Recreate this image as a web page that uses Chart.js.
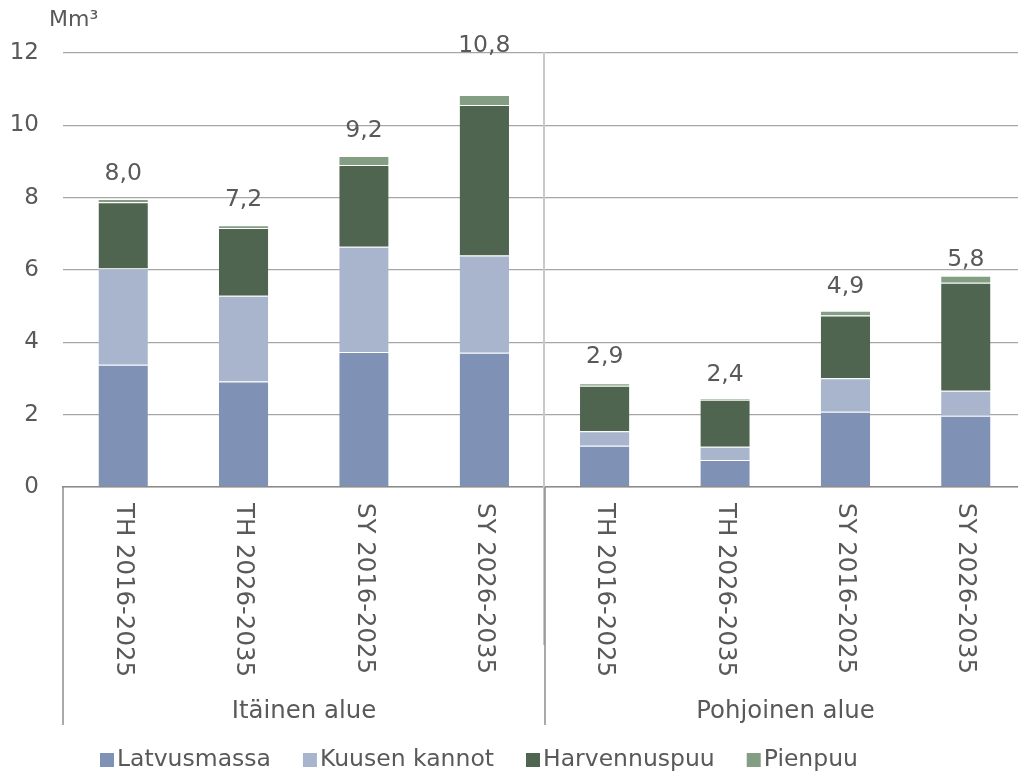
<!DOCTYPE html>
<html>
<head>
<meta charset="utf-8">
<script src="https://cdn.jsdelivr.net/npm/chart.js@4/dist/chart.umd.min.js"></script>
<style>
  html, body { margin: 0; padding: 0; background: #fff; overflow: hidden; }
  #wrap { width: 1018px; height: 774px; overflow: hidden; }
</style>
</head>
<body>
<div id="wrap"><canvas id="myChart" width="1027" height="774"></canvas></div>
<script>
// kategoriat ja ryhmät
var categories = ["TH 2016-2025", "TH 2026-2035", "SY 2016-2025", "SY 2026-2035",
                  "TH 2016-2025", "TH 2026-2035", "SY 2016-2025", "SY 2026-2035"];
var groups = ["Itäinen alue", "Pohjoinen alue"];

// sarjat (Mm3)
var latvusmassa = [3.38, 2.92, 3.73, 3.71, 1.14, 0.75, 2.08, 1.97];
var kuusenKannot = [2.66, 2.37, 2.91, 2.69, 0.40, 0.36, 0.93, 0.69];
var harvennuspuu = [1.83, 1.87, 2.26, 4.16, 1.26, 1.30, 1.73, 2.99];
var pienpuu = [0.09, 0.08, 0.25, 0.28, 0.07, 0.04, 0.13, 0.19];
var totals = [8.0, 7.2, 9.2, 10.8, 2.9, 2.4, 4.9, 5.8];

var yTicks = [0, 2, 4, 6, 8, 10, 12];

var FONT = "Verdana, 'DejaVu Sans', sans-serif";
var TXT = "#595959";
// summatekstien etäisyys pylvään päästä (px), osa siirretty käsin
var labelLift = [25, 25, 25, 49, 26, 24, 24, 16];

// omat piirrot: arvot, kategoriat, ryhmät, viivat, selite
var extras = {
  id: "extras",
  afterDatasetsDraw: function (chart) {
    var ctx = chart.ctx;
    var area = chart.chartArea;
    var x = chart.scales.x;
    ctx.save();

    // erotinviiva ryhmien välissä
    var mid = Math.round((x.getPixelForValue(3) + x.getPixelForValue(4)) / 2);
    ctx.strokeStyle = "#c8c8c8";
    ctx.lineWidth = 2;
    ctx.beginPath();
    ctx.moveTo(mid - 1, area.top - 1);
    ctx.lineTo(mid - 1, 645);
    ctx.stroke();

    // pystyviivat kategoria-alueella
    ctx.strokeStyle = "#8c8c8c";
    ctx.lineWidth = 1.5;
    [area.left, mid, area.right].forEach(function (px) {
      ctx.beginPath();
      ctx.moveTo(px, area.bottom);
      ctx.lineTo(px, 725);
      ctx.stroke();
    });

    // summat pylväiden päälle
    var top = chart.getDatasetMeta(chart.data.datasets.length - 1);
    ctx.fillStyle = TXT;
    ctx.font = "23.5px " + FONT;
    ctx.textAlign = "center";
    ctx.textBaseline = "middle";
    for (var i = 0; i < totals.length; i++) {
      var el = top.data[i];
      ctx.fillText(totals[i].toFixed(1).replace(".", ","), el.x, el.y - labelLift[i]);
    }

    // kategoriat pystyyn
    ctx.font = "24.4px " + FONT;
    ctx.textAlign = "left";
    for (var j = 0; j < categories.length; j++) {
      ctx.save();
      ctx.translate(x.getPixelForValue(j), area.bottom + 16);
      ctx.rotate(Math.PI / 2);
      ctx.fillText(categories[j], 0, 0);
      ctx.restore();
    }

    // ryhmät
    ctx.textAlign = "center";
    ctx.fillText(groups[0], (area.left + mid) / 2, 712);
    ctx.fillText(groups[1], (mid + area.right) / 2, 712);

    // yksikkö
    ctx.textAlign = "left";
    ctx.font = "22px " + FONT;
    ctx.fillText("Mm³", 49, 20);

    // selite
    ctx.font = "23.5px " + FONT;
    var lx = 100;
    chart.data.datasets.forEach(function (ds) {
      ctx.fillStyle = ds.backgroundColor;
      ctx.fillRect(lx, 753, 14, 14);
      ctx.fillStyle = TXT;
      ctx.fillText(ds.label, lx + 17, 760);
      lx += 17 + ctx.measureText(ds.label).width + 32;
    });

    ctx.restore();
  },
};

var chartArea = document.getElementById("myChart").getContext("2d");
var myChart = new Chart(chartArea, {
  type: "bar",
  data: {
    labels: categories,
    datasets: [
      { label: "Latvusmassa", data: latvusmassa, backgroundColor: "#7f91b4" },
      { label: "Kuusen kannot", data: kuusenKannot, backgroundColor: "#a9b5cd" },
      { label: "Harvennuspuu", data: harvennuspuu, backgroundColor: "#50654f" },
      { label: "Pienpuu", data: pienpuu, backgroundColor: "#849e84" },
    ],
  },
  options: {
    responsive: false,
    animation: false,
    datasets: {
      bar: {
        barPercentage: 0.41,
        categoryPercentage: 1,
        borderColor: "rgba(255,255,255,0.7)",
        borderWidth: { top: 1 },
        borderSkipped: false,
      },
    },
    layout: { padding: { top: 53, right: 1, left: 0, bottom: 0 } },
    plugins: {
      legend: { display: false },
      tooltip: { enabled: false },
    },
    scales: {
      x: {
        stacked: true,
        grid: { display: false },
        border: { display: true, color: "#8c8c8c", width: 1.5 },
        ticks: { display: false },
        afterFit: function (scale) { scale.height = 287; },
      },
      y: {
        stacked: true,
        min: 0,
        max: 12,
        afterBuildTicks: function (scale) {
          scale.ticks = yTicks.map(function (v) { return { value: v }; });
        },
        grid: { color: "#a6a6a6", lineWidth: 1.3, drawTicks: false },
        border: { display: false },
        ticks: {
          color: TXT,
          padding: 24,
          font: { family: FONT, size: 23 },
        },
        afterFit: function (scale) { scale.width = 63; },
      },
    },
  },
  plugins: [extras],
});
</script>
</body>
</html>
